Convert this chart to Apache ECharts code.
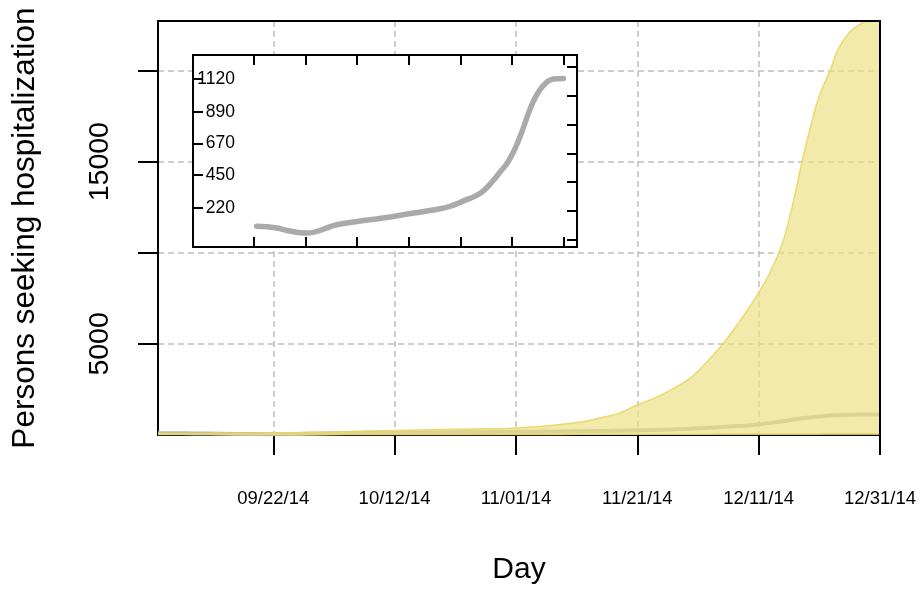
<!DOCTYPE html>
<html>
<head>
<meta charset="utf-8">
<script src="https://cdn.jsdelivr.net/npm/echarts@6/dist/echarts.min.js"></script>
<style>
  html, body { margin: 0; padding: 0; background: #fff; }
  #chart { width: 921px; height: 595px; }
</style>
</head>
<body>
<div id="chart"></div>
<script>
// Day index counted from 2014-09-02 (day 1 = 09/03/14, day 120 = 12/31/14)
const tickDays = [20, 40, 60, 80, 100, 120];
const tickLabels = ['09/22/14', '10/12/14', '11/01/14', '11/21/14', '12/11/14', '12/31/14'];
const yTicks = [5000, 10000, 15000, 20000];
const yLabelValues = [5000, 15000];

// Upper and lower edges of the projection band
const bandDays  = [1, 10, 20, 30, 40, 48, 55, 60, 65, 70, 74, 77, 80, 84, 88, 90, 94, 97, 100, 102, 104, 106, 107, 109, 110, 112, 113, 115, 117, 118, 120];
const bandUpper = [80, 90, 110, 170, 250, 300, 340, 390, 500, 680, 950, 1200, 1650, 2200, 2950, 3500, 4950, 6300, 7800, 9000, 10600, 13200, 14800, 17500, 18600, 20200, 21100, 22100, 22600, 22690, 22720];
const bandLower = [60, 50, 35, 30, 30, 30, 30, 30, 30, 35, 35, 40, 40, 40, 45, 45, 50, 50, 55, 55, 60, 60, 60, 60, 60, 65, 65, 65, 70, 70, 70];

// Median trajectory (also shown enlarged in the inset)
const medDays   = [1, 5, 9, 14, 20, 24, 28, 32, 40, 50, 60, 70, 76, 82, 86, 89, 92, 95, 99, 103, 107, 109, 111, 113, 115, 118, 120];
const medValues = [93, 90, 81, 60, 46, 56, 80, 104, 127, 151, 180, 208, 232, 275, 305, 340, 395, 460, 555, 708, 905, 985, 1045, 1085, 1112, 1120, 1121];

// Inset axis ticks
const insetTickDays = [0, 20, 40, 60, 80, 100, 120];
const insetLeftTicks = [220, 450, 670, 890, 1120];
const insetRightTicks = [0, 200, 400, 600, 800, 1000, 1200];

const FONT = '"Liberation Sans", Arial, Helvetica, sans-serif';
const pairs = (xs, ys) => xs.map((x, i) => [x, ys[i]]);

const frameLine = { show: true, onZero: false, lineStyle: { color: '#000', width: 2 } };
const gridDash = { show: true, lineStyle: { color: '#BEBEBE', width: 1.5, type: [6, 4] } };

const chart = echarts.init(document.getElementById('chart'), null, { renderer: 'canvas' });

chart.setOption({
  animation: false,
  backgroundColor: '#fff',
  textStyle: { fontFamily: FONT },
  grid: [
    { left: 158, top: 21, right: 41, bottom: 160, outerBoundsMode: 'none', containLabel: false },
    { left: 193, top: 55, width: 384, height: 192, show: true, backgroundColor: '#fff',
      borderWidth: 0, z: 5, outerBoundsMode: 'none', containLabel: false }
  ],
  xAxis: [
    {
      type: 'value', gridIndex: 0, min: 1, max: 120, position: 'bottom',
      axisLine: frameLine,
      axisTick: { show: true, inside: false, length: 20, customValues: tickDays,
                  lineStyle: { color: '#000', width: 2 } },
      axisLabel: { show: true, customValues: tickDays, margin: 54, fontSize: 18.5, color: '#000',
                   fontFamily: FONT,
                   formatter: v => tickLabels[tickDays.indexOf(v)] || '' },
      splitLine: gridDash,
      name: 'Day', nameLocation: 'middle', nameGap: 120,
      nameTextStyle: { fontSize: 30, color: '#000', fontFamily: FONT }
    },
    {
      type: 'value', gridIndex: 0, min: 1, max: 120, position: 'top', z: 10,
      axisLine: frameLine, axisTick: { show: false }, axisLabel: { show: false }, splitLine: { show: false }
    },
    {
      type: 'value', gridIndex: 1, min: -23.7, max: 125.3, position: 'bottom', z: 6,
      axisLine: frameLine,
      axisTick: { show: true, inside: true, length: 10, customValues: insetTickDays,
                  lineStyle: { color: '#000', width: 2 } },
      axisLabel: { show: false }, splitLine: { show: false }
    },
    {
      type: 'value', gridIndex: 1, min: -23.7, max: 125.3, position: 'top', z: 6,
      axisLine: frameLine,
      axisTick: { show: true, inside: true, length: 10, customValues: insetTickDays,
                  lineStyle: { color: '#000', width: 2 } },
      axisLabel: { show: false }, splitLine: { show: false }
    }
  ],
  yAxis: [
    {
      type: 'value', gridIndex: 0, min: 0, max: 22720, position: 'left',
      axisLine: frameLine,
      axisTick: { show: true, inside: false, length: 20, customValues: yTicks,
                  lineStyle: { color: '#000', width: 2 } },
      axisLabel: { show: true, customValues: yLabelValues, rotate: 90, margin: 43,
                   fontSize: 28.5, color: '#000', fontFamily: FONT,
                   formatter: v => String(v) },
      splitLine: gridDash,
      name: 'Persons seeking hospitalization', nameLocation: 'middle', nameGap: 117,
      nameTextStyle: { fontSize: 31.5, color: '#000', fontFamily: FONT }
    },
    {
      type: 'value', gridIndex: 0, min: 0, max: 22720, position: 'right', z: 10,
      axisLine: frameLine, axisTick: { show: false }, axisLabel: { show: false }, splitLine: { show: false }
    },
    {
      type: 'value', gridIndex: 1, min: -51, max: 1285, position: 'left', z: 6,
      axisLine: frameLine,
      axisTick: { show: true, inside: true, length: 10, customValues: insetLeftTicks,
                  lineStyle: { color: '#000', width: 2 } },
      axisLabel: { show: true, inside: true, customValues: insetLeftTicks, margin: 42, align: 'right',
                   fontSize: 17.5, color: '#000', fontFamily: FONT,
                   formatter: v => String(v) },
      splitLine: { show: false }
    },
    {
      type: 'value', gridIndex: 1, min: -51, max: 1285, position: 'right', z: 6,
      axisLine: frameLine,
      axisTick: { show: true, inside: true, length: 10, customValues: insetRightTicks,
                  lineStyle: { color: '#000', width: 2 } },
      axisLabel: { show: false }, splitLine: { show: false }
    }
  ],
  series: [
    {
      name: 'median', type: 'line', xAxisIndex: 0, yAxisIndex: 0, z: 1,
      data: pairs(medDays, medValues), smooth: 0.5,
      showSymbol: false, symbol: 'none',
      lineStyle: { color: '#B8B8B8', width: 4 }
    },
    {
      name: 'upper', type: 'line', xAxisIndex: 0, yAxisIndex: 0, z: 2,
      data: pairs(bandDays, bandUpper), smooth: 0.4,
      showSymbol: false, symbol: 'none',
      lineStyle: { color: 'rgba(232,214,100,0.9)', width: 1.5 },
      areaStyle: { color: 'rgba(234,224,130,0.68)', opacity: 1, origin: 'start' }
    },
    {
      name: 'lower', type: 'line', xAxisIndex: 0, yAxisIndex: 0, z: 3,
      data: pairs(bandDays, bandLower), smooth: 0.4,
      showSymbol: false, symbol: 'none',
      lineStyle: { color: 'rgba(232,214,100,0.9)', width: 1.5 }
    },
    {
      name: 'median inset', type: 'line', xAxisIndex: 2, yAxisIndex: 2, z: 7,
      data: pairs(medDays, medValues), smooth: 0.5,
      showSymbol: false, symbol: 'none',
      lineStyle: { color: '#AAAAAA', width: 5.5, cap: 'round', join: 'round' }
    }
  ]
});
</script>
</body>
</html>
